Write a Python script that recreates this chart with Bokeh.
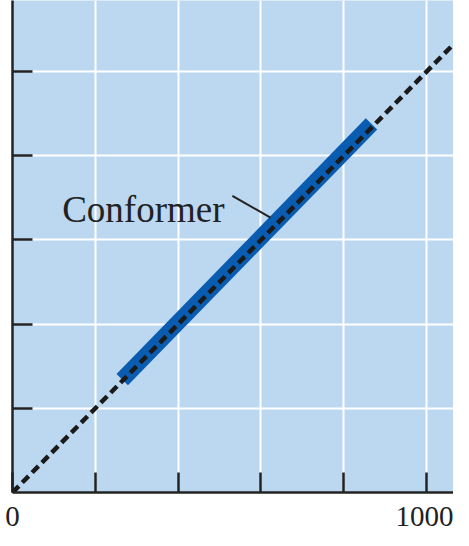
from bokeh.plotting import figure
from bokeh.models import Range1d, FixedTicker
from bokeh.core.properties import value
from bokeh.embed import file_html
from bokeh.resources import INLINE

# data
diag = [0, 1075]
conformer_x = [265, 867]
conformer_y = [268, 876]
leader_x = [531, 623]
leader_y = [705, 653]
label_x = [512]
label_y = [672]
label_text = ["Conformer"]
x_ticks = [0, 200, 400, 600, 800, 1000]
y_ticks = [200, 400, 600, 800, 1000]
x_tick_labels = {0: "0", 200: "", 400: "", 600: "", 800: "", 1000: "1000"}

SERIF = "Liberation Serif"
INK = "#222222"

p = figure(width=453, height=530, output_backend="svg", toolbar_location=None,
           x_range=Range1d(0, 1065), y_range=Range1d(0, 1169),
           min_border_left=12, min_border_right=0, min_border_top=0, min_border_bottom=38)
p.outline_line_color = None
p.background_fill_color = "#bcd7f0"
p.border_fill_color = "white"

p.xaxis.ticker = FixedTicker(ticks=x_ticks)
p.yaxis.ticker = FixedTicker(ticks=y_ticks)
p.xaxis.major_label_overrides = x_tick_labels
p.yaxis.major_label_overrides = {t: "" for t in y_ticks}

for ax in (p.xaxis, p.yaxis):
    ax.axis_line_color = INK
    ax.axis_line_width = 2.5
    ax.major_tick_line_color = INK
    ax.major_tick_line_width = 2.5
    ax.major_tick_in = 20
    ax.major_tick_out = 0
    ax.minor_tick_line_color = None
    ax.major_label_text_font = SERIF
    ax.major_label_text_color = INK
p.xaxis.major_label_text_font_size = "29px"
p.xaxis.major_label_standoff = 14
p.yaxis.major_label_standoff = 0
p.yaxis.major_label_text_font_size = "1px"

p.grid.grid_line_color = "white"
p.grid.grid_line_width = 2
p.grid.grid_line_alpha = 1.0

p.line(conformer_x, conformer_y, line_color="#0a5cb0", line_width=16, line_cap="butt")
p.line(diag, diag, line_color="#1a1a1a", line_width=4.5, line_dash="9 5")
p.line(leader_x, leader_y, line_color=INK, line_width=2)
p.text(label_x, label_y, text=label_text, text_font=value(SERIF), text_font_size="37px",
       text_align="right", text_baseline="alphabetic", text_color=INK)

open("out.html", "w").write(file_html(p, INLINE))
